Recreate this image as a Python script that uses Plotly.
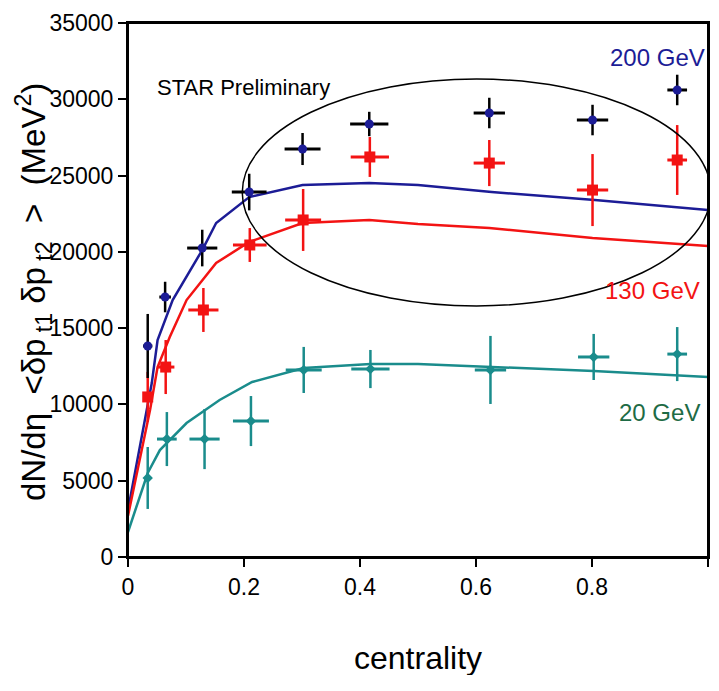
import plotly.graph_objects as go

# ---- data: 200 GeV ----
x200 = [0.034, 0.064, 0.128, 0.209, 0.301, 0.416, 0.623, 0.801, 0.947]
y200 = [13830, 17040, 20250, 23920, 26740, 28380, 29100, 28640, 30610]
ey200 = [2100, 1000, 1200, 1200, 1050, 800, 1000, 1000, 1000]
ex200 = [0.008, 0.01, 0.026, 0.030, 0.031, 0.033, 0.027, 0.027, 0.017]

# ---- data: 130 GeV ----
x130 = [0.034, 0.065, 0.130, 0.210, 0.302, 0.417, 0.623, 0.801, 0.947]
y130 = [10490, 12450, 16190, 20450, 22090, 26220, 25820, 24050, 26020]
ey130 = [1640, 1770, 1440, 1110, 2030, 1310, 1510, 2360, 2290]
ex130 = [0.008, 0.015, 0.026, 0.029, 0.031, 0.033, 0.027, 0.027, 0.017]

# ---- data: 20 GeV ----
x20 = [0.034, 0.067, 0.132, 0.212, 0.303, 0.418, 0.625, 0.803, 0.947]
y20 = [5180, 7730, 7730, 8910, 12260, 12320, 12260, 13110, 13300]
ey20 = [2030, 1770, 1970, 1640, 1510, 1250, 2230, 1510, 1770]
ex20 = [0.004, 0.017, 0.026, 0.031, 0.031, 0.033, 0.027, 0.027, 0.017]

# ---- model curves ----
mx200 = [0, 0.041, 0.051, 0.077, 0.128, 0.152, 0.209, 0.301, 0.416, 0.5, 0.627, 0.805, 1.0]
my200 = [3080, 11400, 14220, 16840, 20120, 21890, 23590, 24380, 24510, 24380, 23920, 23400, 22740]
mx130 = [0, 0.038, 0.051, 0.072, 0.101, 0.152, 0.209, 0.301, 0.416, 0.5, 0.623, 0.801, 1.0]
my130 = [2700, 9630, 12450, 14420, 16840, 19270, 20650, 21890, 22090, 21820, 21560, 20910, 20380]
mx20 = [0, 0.034, 0.055, 0.101, 0.158, 0.214, 0.303, 0.418, 0.5, 0.625, 0.803, 1.0]
my20 = [1640, 5505, 7010, 8780, 10290, 11470, 12390, 12650, 12650, 12450, 12190, 11800]

xticks = [0, 0.2, 0.4, 0.6, 0.8, 1]
xticklabels = ["0", "0.2", "0.4", "0.6", "0.8", "1"]
yticks = [0, 5000, 10000, 15000, 20000, 25000, 30000, 35000]

BLUE = "#1c1c96"
RED = "#f31313"
TEAL = "#1a8c8c"
GREEN = "#1e6b45"
FONT = "Liberation Sans"
SP = "\u00a0"

fig = go.Figure()

fig.add_trace(go.Scatter(x=mx200, y=my200, mode="lines", line=dict(color=BLUE, width=2.5), showlegend=False))
fig.add_trace(go.Scatter(x=mx130, y=my130, mode="lines", line=dict(color=RED, width=2.5), showlegend=False))
fig.add_trace(go.Scatter(x=mx20, y=my20, mode="lines", line=dict(color=TEAL, width=2.5), showlegend=False))

fig.add_trace(go.Scatter(
    x=x20, y=y20, mode="markers",
    marker=dict(color=TEAL, size=8, symbol="diamond"),
    error_y=dict(type="data", array=ey20, color=TEAL, thickness=2.5, width=0),
    error_x=dict(type="data", array=ex20, color=TEAL, thickness=3, width=0),
    showlegend=False))
fig.add_trace(go.Scatter(
    x=x130, y=y130, mode="markers",
    marker=dict(color=RED, size=11, symbol="square"),
    error_y=dict(type="data", array=ey130, color=RED, thickness=2.5, width=0),
    error_x=dict(type="data", array=ex130, color=RED, thickness=3, width=0),
    showlegend=False))
fig.add_trace(go.Scatter(
    x=x200, y=y200, mode="markers",
    marker=dict(color=BLUE, size=9, symbol="circle"),
    error_y=dict(type="data", array=ey200, color="black", thickness=2.5, width=0),
    error_x=dict(type="data", array=ex200, color="black", thickness=3, width=0),
    showlegend=False))

fig.add_shape(type="circle", xref="x", yref="y", x0=0.197, x1=1.005, y0=16450, y1=31330,
              line=dict(color="black", width=1.5), layer="above")
# plot frame
fig.add_shape(type="rect", xref="paper", yref="paper", x0=0, x1=1, y0=0, y1=1,
              line=dict(color="black", width=2), layer="above")

ytitle = ("dN/dη" + SP * 2 + "&lt;δp<sub>" + SP + "t1</sub>" + SP + "δp<sub>" + SP + "t2</sub>" + SP * 2
          + "&gt;" + SP * 2 + "(MeV<sup>2</sup>)")

# page body has an 8px margin: size figure so the plot area lands where the reference has it
fig.update_layout(
    width=703, height=667,
    margin=dict(l=120, r=3, t=15, b=118),
    paper_bgcolor="white", plot_bgcolor="white",
    font=dict(family=FONT, color="black"),
    xaxis=dict(range=[0, 1.0001], tickvals=xticks, ticktext=xticklabels, automargin=False,
               showline=True, linecolor="black", linewidth=2, mirror=True,
               ticks="outside", ticklen=8, tickwidth=2, tickcolor="black",
               showgrid=False, zeroline=False, tickfont=dict(size=23, family=FONT)),
    yaxis=dict(range=[0, 35000], tickvals=yticks, ticktext=[str(v) for v in yticks], automargin=False,
               showline=True, linecolor="black", linewidth=2, mirror=True,
               ticks="outside", ticklen=8, tickwidth=2, tickcolor="black",
               showgrid=False, zeroline=False, tickfont=dict(size=23, family=FONT)),
    annotations=[
        dict(text="centrality", xref="paper", yref="paper", x=0.5, y=-0.19, xanchor="center", yanchor="middle",
             showarrow=False, font=dict(size=32, family=FONT)),
        dict(text=ytitle, xref="paper", yref="paper",
             x=-0.164, y=0.496, xanchor="center", yanchor="middle", textangle=-90,
             showarrow=False, font=dict(size=33, family=FONT)),
        dict(text="STAR Preliminary", xref="paper", yref="paper", x=0.046, y=0.88, xanchor="left", yanchor="middle",
             showarrow=False, font=dict(size=22, family=FONT)),
        dict(text="200 GeV", xref="paper", yref="paper", x=0.998, y=0.935, xanchor="right", yanchor="middle",
             showarrow=False, font=dict(size=24, family=FONT, color=BLUE)),
        dict(text="130 GeV", xref="paper", yref="paper", x=0.99, y=0.5, xanchor="right", yanchor="middle",
             showarrow=False, font=dict(size=24, family=FONT, color=RED)),
        dict(text="20 GeV", xref="paper", yref="paper", x=0.99, y=0.27, xanchor="right", yanchor="middle",
             showarrow=False, font=dict(size=24, family=FONT, color=GREEN)),
    ],
)

fig.write_html("out.html")
